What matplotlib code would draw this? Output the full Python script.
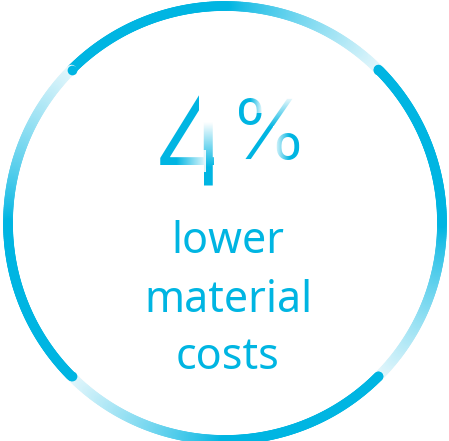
import numpy as np
import matplotlib
matplotlib.use('Agg')
import matplotlib.pyplot as plt
from matplotlib.collections import LineCollection
from matplotlib.colors import to_rgb

# ---- content ----
value_text = "4"
unit_text = "%"
label_lines = ["lower", "material", "costs"]
cap_angles = [135, 45, -45, -135]   # degrees, where each solid arc starts

BLUE = '#00b5e2'
PALE = '#e9f8fc'

fig = plt.figure(figsize=(4.49, 4.41), dpi=100)
ax = fig.add_axes([0, 0, 1, 1])
ax.axis('off')

# ---- ring of four gradient arcs ----
cx, cy, r = 225, 223, 217
lw = 7.0
b = np.array(to_rgb(BLUE)); p = np.array(to_rgb(PALE))
n = 180
for a0 in cap_angles:
    th = np.radians(np.linspace(a0, a0 - 90, n + 1))
    x = cx + r * np.cos(th)
    y = cy - r * np.sin(th)
    pts = np.column_stack([x, y])
    segs = np.stack([pts[:-1], pts[1:]], axis=1)
    t = (np.arange(n) + 0.5) / n
    f = np.clip((t - 0.5) / 0.5, 0, 1) ** 0.8
    cols = b[None, :] * (1 - f[:, None]) + p[None, :] * f[:, None]
    lc = LineCollection(segs[::-1], colors=cols[::-1], linewidths=lw,
                        capstyle='round', zorder=2)
    ax.add_collection(lc)
for a0 in cap_angles:
    th = np.radians(a0)
    ax.plot([cx + r * np.cos(th)], [cy - r * np.sin(th)], 'o', ms=lw,
            mew=0, color=BLUE, zorder=3)

# ---- big number ----
big = ['Inter', 'DejaVu Sans']
ax.text(192, 185, value_text, ha='center', va='baseline', fontsize=93,
        fontweight=300, family=big, color=BLUE, zorder=4)
ax.text(269, 159, unit_text, ha='center', va='baseline', fontsize=60,
        fontweight=300, family=big, color=BLUE, zorder=4)


def fade(x0, x1, y0, y1, fn):
    """white overlay whose opacity is fn(X, Y) (screen pixel coords)"""
    xs = np.linspace(x0, x1, 60)
    ys = np.linspace(y0, y1, 60)
    X, Y = np.meshgrid(xs, ys)
    img = np.ones(X.shape + (4,))
    img[..., 3] = np.clip(fn(X, Y), 0, 1)
    ax.imshow(img, extent=(x0, x1, y1, y0), origin='upper', zorder=5,
              interpolation='bilinear', aspect='auto')


# "4": stem fades upward, bar fades to the right, overhang removed
fade(199, 220, 84, 121, lambda X, Y: np.ones_like(X))
fade(203, 220, 120, 170, lambda X, Y: (168 - Y) / 46)
fade(174, 206, 150, 172, lambda X, Y: (X - 176) / 30 * 0.9)
fade(214, 232, 150, 174, lambda X, Y: np.ones_like(X))
# "%": slash fades toward its top, top ring fades on the upper right,
# bottom ring fades on the left
fade(268, 306, 88, 130, lambda X, Y: (128 - Y) / 30 * 0.92)
fade(250, 267, 94, 113, lambda X, Y: (X - 250) / 12 * 0.9)
fade(273, 290, 126, 164, lambda X, Y: (290 - X) / 14 * 0.85)

# ---- label ----
fam = ['Noto Sans', 'DejaVu Sans']
for s, yb in zip(label_lines, [253, 312, 369]):
    ax.text(228, yb, s, ha='center', va='baseline', fontsize=31,
            family=fam, color=BLUE, zorder=4)

ax.set_xlim(0, 449)
ax.set_ylim(441, 0)
fig.savefig('out.png', dpi=100, facecolor='white')
